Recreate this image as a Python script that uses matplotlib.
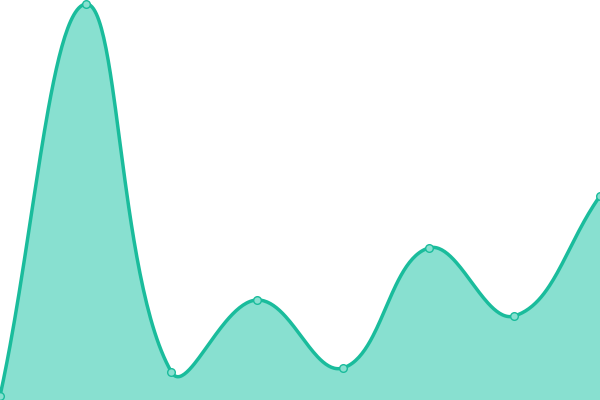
import numpy as np
import matplotlib
matplotlib.use("Agg")
import matplotlib.pyplot as plt

# values (pixel height from the bottom)
labels = ["1", "2", "3", "4", "5", "6", "7", "8"]
values = [4, 396, 28, 100, 32, 152, 84, 204]

line_color = "#1abc9c"
fill_color = "#88e0d0"
tension = 0.4


def spline_controls(px, py):
    # chart.js style bezier control points, computed in pixel space
    n = len(px)
    cps = []
    for i in range(n):
        p0 = (px[max(i - 1, 0)], py[max(i - 1, 0)])
        p1 = (px[i], py[i])
        p2 = (px[min(i + 1, n - 1)], py[min(i + 1, n - 1)])
        d01 = np.hypot(p1[0] - p0[0], p1[1] - p0[1])
        d12 = np.hypot(p2[0] - p1[0], p2[1] - p1[1])
        s01 = d01 / (d01 + d12) if d01 + d12 else 0
        s12 = d12 / (d01 + d12) if d01 + d12 else 0
        fa, fb = tension * s01, tension * s12
        prev = (p1[0] - fa * (p2[0] - p0[0]), p1[1] - fa * (p2[1] - p0[1]))
        nxt = (p1[0] + fb * (p2[0] - p0[0]), p1[1] + fb * (p2[1] - p0[1]))
        cps.append((prev, nxt))
    return cps


fig = plt.figure(figsize=(6, 4), dpi=100)
ax = fig.add_axes([0, 0, 1, 1])
ax.set_xlim(0, len(values) - 1)
ax.set_ylim(0, 400)
ax.axis("off")

x = np.arange(len(values))
pix = ax.transData.transform(np.column_stack([x, values]))
px, py = pix[:, 0], pix[:, 1]
h = fig.bbox.height
cps = spline_controls(px, py)

curve = []
t = np.linspace(0, 1, 60)
for i in range(len(values) - 1):
    a = np.array([px[i], py[i]])
    b = np.array(cps[i][1])
    c = np.array(cps[i + 1][0])
    d = np.array([px[i + 1], py[i + 1]])
    b[1] = np.clip(b[1], 0, h)
    c[1] = np.clip(c[1], 0, h)
    seg = ((1 - t) ** 3)[:, None] * a + (3 * (1 - t) ** 2 * t)[:, None] * b \
        + (3 * (1 - t) * t ** 2)[:, None] * c + (t ** 3)[:, None] * d
    curve.append(seg)
curve = np.vstack(curve)
data_curve = ax.transData.inverted().transform(curve)

ax.fill_between(data_curve[:, 0], data_curve[:, 1], 0, color=fill_color, lw=0)
ax.plot(data_curve[:, 0], data_curve[:, 1], color=line_color, lw=2.5)
ax.plot(x, values, "o", ms=5.5, mfc=fill_color, mec=line_color, mew=1)

fig.savefig("out.png", dpi=100)
